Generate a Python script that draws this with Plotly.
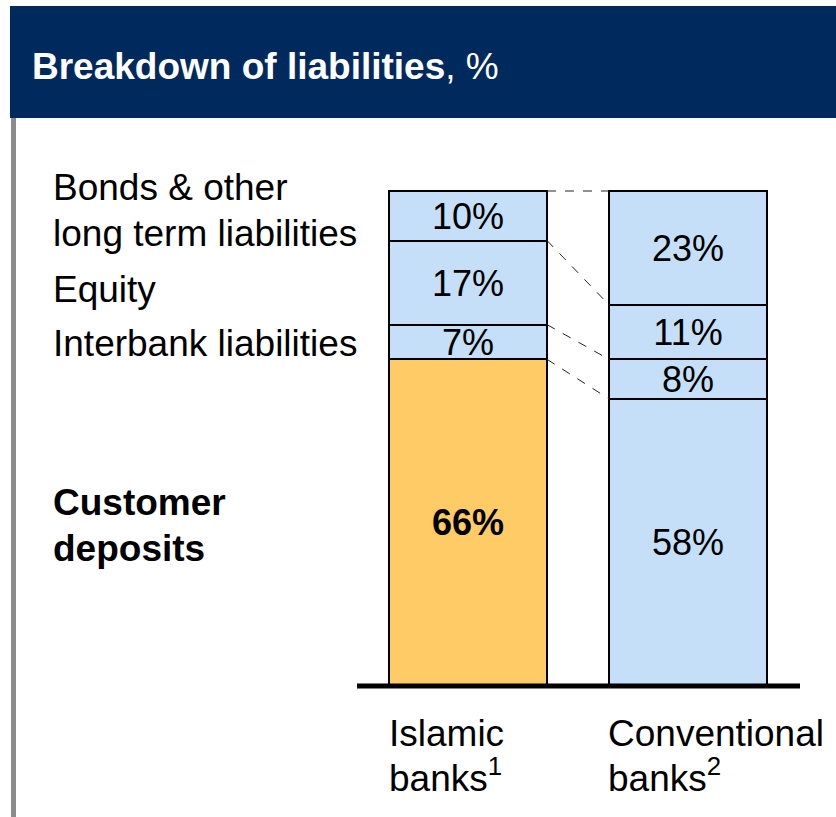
import plotly.graph_objects as go

# ---- data ----
banks = ["Islamic banks", "Conventional banks"]
customer_deposits = [66, 58]
interbank = [7, 8]
equity = [17, 11]
bonds = [10, 23]
segment_names = ["Customer deposits", "Interbank liabilities", "Equity", "Bonds & other long term liabilities"]
series = [customer_deposits, interbank, equity, bonds]

W, H = 836, 817
FONT = "Liberation Sans, Arial, sans-serif"
NAVY = "#00295E"
BLUE = "#C6DFF8"
ORANGE = "#FFCB66"

xpos = [0, 1]
bw = 158 / 220.0

# pixel->data mapping for ranges (full-figure plot area)
px_per_x = 220.0
x_center0 = 468.0
px_per_y = 4.95
y_base_px = 686.0
xr = [-x_center0 / px_per_x, (W - x_center0) / px_per_x]
yr = [-(H - y_base_px) / px_per_y, y_base_px / px_per_y]

fig = go.Figure()
for i, vals in enumerate(series):
    colors = [ORANGE, BLUE] if i == 0 else [BLUE, BLUE]
    texts = [f"<b>{v}%</b>" if (i == 0 and j == 0) else f"{v}%" for j, v in enumerate(vals)]
    fig.add_trace(go.Bar(
        x=xpos, y=vals, width=bw, name=segment_names[i],
        marker=dict(color=colors, line=dict(color="black", width=2)),
        text=texts, texttemplate="%{text}", textposition="inside",
        insidetextanchor="middle", textangle=0,
        textfont=dict(family=FONT, size=36, color="black"),
        hoverinfo="skip", showlegend=False,
    ))

shapes = []
# header band
shapes.append(dict(type="rect", xref="paper", yref="paper",
                   x0=10 / W, x1=1, y0=1 - 118 / H, y1=1 - 6 / H,
                   fillcolor=NAVY, line=dict(width=0), layer="below"))
# left gray rule
shapes.append(dict(type="rect", xref="paper", yref="paper",
                   x0=11 / W, x1=16 / W, y0=0, y1=1 - 118 / H,
                   fillcolor="#8C8C8C", line=dict(width=0), layer="below"))
# connectors
cum_a, cum_b = 0, 0
levels = []
for vals in series:
    cum_a += vals[0]
    cum_b += vals[1]
    levels.append((cum_a, cum_b))
for a, b in levels:
    shapes.append(dict(type="line", xref="x", yref="y",
                       x0=xpos[0] + bw / 2, x1=xpos[1] - bw / 2, y0=a, y1=b,
                       line=dict(color="#222222", width=1, dash="dash")))
# baseline
shapes.append(dict(type="line", xref="paper", yref="y",
                   x0=357 / W, x1=800 / W, y0=0, y1=0,
                   line=dict(color="black", width=5)))

annotations = []
def ann(text, xpx, ypx, size=37, color="black", xanchor="left"):
    annotations.append(dict(text=text, xref="paper", yref="paper",
                            x=xpx / W, y=1 - ypx / H, xanchor=xanchor, yanchor="middle",
                            showarrow=False, font=dict(family=FONT, size=size, color=color)))

ann("<b>Breakdown of liabilities</b>, %", 30, 66, size=37, color="white")
ann("Bonds & other", 51, 188)
ann("long term liabilities", 51, 233)
ann("Equity", 51, 289)
ann("Interbank liabilities", 51, 343)
ann("<b>Customer</b>", 51, 503)
ann("<b>deposits</b>", 51, 548)
ann("Islamic", 387, 733)
ann("banks<sup>1</sup>", 387, 775)
ann("Conventional", 606, 733)
ann("banks<sup>2</sup>", 606, 775)

fig.update_layout(
    width=W, height=H, autosize=False,
    margin=dict(l=0, r=0, t=0, b=0, pad=0),
    paper_bgcolor="white", plot_bgcolor="white",
    barmode="stack", bargap=0,
    uniformtext=dict(minsize=36, mode="show"),
    xaxis=dict(range=xr, visible=False, fixedrange=True),
    yaxis=dict(range=yr, visible=False, fixedrange=True),
    shapes=shapes, annotations=annotations,
)
fig.write_html("out.html")
